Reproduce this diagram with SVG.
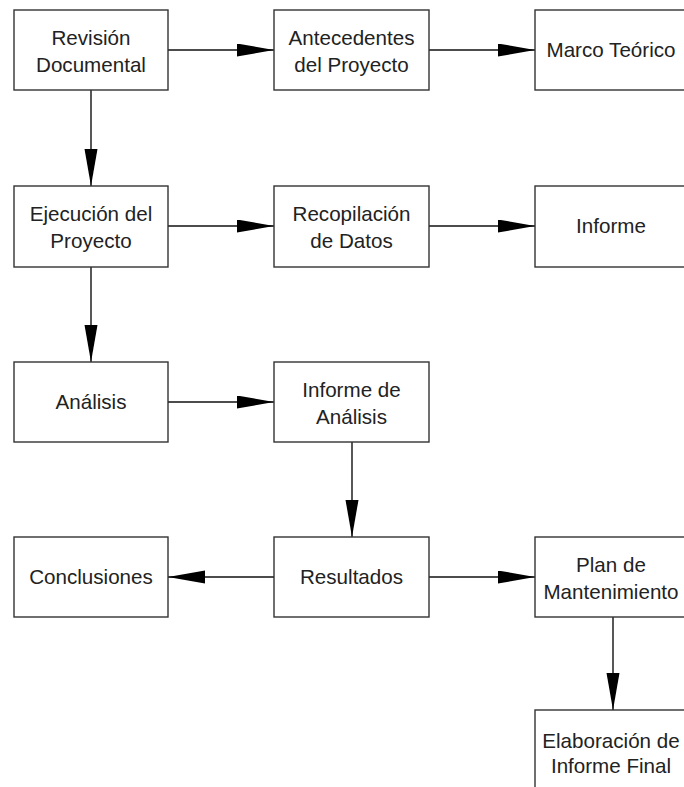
<svg xmlns="http://www.w3.org/2000/svg" width="684" height="787" viewBox="0 0 684 787">
<style>
.box{fill:#fff;stroke:#333;stroke-width:1.4}
.lbl{font-family:"Liberation Sans",Arial,sans-serif;font-size:20.6px;fill:#222;text-anchor:middle}
.edge{stroke:#111;stroke-width:1.4;fill:none;marker-end:url(#ah)}
</style>
<defs>
<marker id="ah" markerUnits="userSpaceOnUse" markerWidth="38" markerHeight="14" refX="37" refY="6.5" orient="auto">
<path d="M0,0 L37,6.5 L0,13 Z" fill="#000"/>
</marker>
</defs>
<rect width="684" height="787" fill="#fff"/>
<g id="connectors">
<line class="edge" x1="168" y1="50" x2="274" y2="50"/>
<line class="edge" x1="429" y1="50" x2="535" y2="50"/>
<line class="edge" x1="91" y1="90" x2="91" y2="186"/>
<line class="edge" x1="168" y1="226" x2="274" y2="226"/>
<line class="edge" x1="429" y1="226" x2="535" y2="226"/>
<line class="edge" x1="91" y1="267" x2="91" y2="362"/>
<line class="edge" x1="168" y1="402" x2="274" y2="402"/>
<line class="edge" x1="352" y1="442" x2="352" y2="537"/>
<line class="edge" x1="274" y1="577" x2="168" y2="577"/>
<line class="edge" x1="429" y1="577" x2="535" y2="577"/>
<line class="edge" x1="613" y1="617" x2="613" y2="710"/>
</g>
<g id="revision"><rect class="box" x="14" y="10" width="154" height="80"/><text class="lbl" x="91" y="45">Revisión</text><text class="lbl" x="91" y="72">Documental</text></g>
<g id="antecedentes"><rect class="box" x="274" y="10" width="155" height="80"/><text class="lbl" x="351.5" y="45">Antecedentes</text><text class="lbl" x="351.5" y="72">del Proyecto</text></g>
<g id="marco"><rect class="box" x="535" y="10" width="152" height="80"/><text class="lbl" x="611" y="57">Marco Teórico</text></g>
<g id="ejecucion"><rect class="box" x="14" y="186" width="154" height="81"/><text class="lbl" x="91" y="221">Ejecución del</text><text class="lbl" x="91" y="248">Proyecto</text></g>
<g id="recopilacion"><rect class="box" x="274" y="186" width="155" height="81"/><text class="lbl" x="351.5" y="221">Recopilación</text><text class="lbl" x="351.5" y="248">de Datos</text></g>
<g id="informe"><rect class="box" x="535" y="186" width="152" height="81"/><text class="lbl" x="611" y="233">Informe</text></g>
<g id="analisis"><rect class="box" x="14" y="362" width="154" height="80"/><text class="lbl" x="91" y="409">Análisis</text></g>
<g id="informe-analisis"><rect class="box" x="274" y="362" width="155" height="80"/><text class="lbl" x="351.5" y="397">Informe de</text><text class="lbl" x="351.5" y="424">Análisis</text></g>
<g id="conclusiones"><rect class="box" x="14" y="537" width="154" height="80"/><text class="lbl" x="91" y="584">Conclusiones</text></g>
<g id="resultados"><rect class="box" x="274" y="537" width="155" height="80"/><text class="lbl" x="351.5" y="584">Resultados</text></g>
<g id="plan"><rect class="box" x="535" y="537" width="152" height="80"/><text class="lbl" x="611" y="572">Plan de</text><text class="lbl" x="611" y="599">Mantenimiento</text></g>
<g id="elaboracion"><rect class="box" x="535" y="710" width="152" height="82"/><text class="lbl" x="611" y="748">Elaboración de</text><text class="lbl" x="611" y="773">Informe Final</text></g>
</svg>
